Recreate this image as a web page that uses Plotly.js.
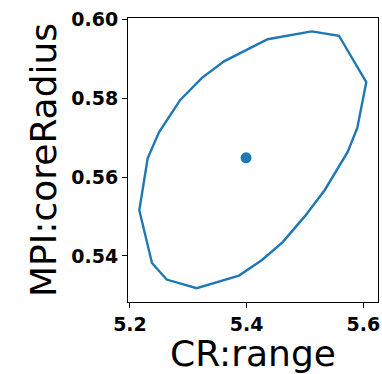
<!DOCTYPE html>
<html>
<head>
<meta charset="utf-8">
<script src="https://cdn.plot.ly/plotly-3.0.1.min.js"></script>
<style>html,body{margin:0;padding:0;background:#fff;}</style>
</head>
<body>
<div id="chart" style="width:382px;height:374px;"></div>
<script>
const contourX = [5.5115, 5.5583, 5.6051, 5.5897, 5.5732, 5.5343, 5.5000, 5.4618, 5.4258, 5.3869, 5.3143, 5.2629, 5.2377, 5.2160, 5.2303, 5.2497, 5.2862, 5.3234, 5.3612, 5.4361, 5.5115];
const contourY = [0.5970, 0.5959, 0.5841, 0.5725, 0.5664, 0.5568, 0.5501, 0.5435, 0.5389, 0.5350, 0.5318, 0.5340, 0.5382, 0.5516, 0.5648, 0.5714, 0.5796, 0.5852, 0.5894, 0.5950, 0.5970];
const centerX = [5.399];
const centerY = [0.5649];
const xTicks = [5.2, 5.4, 5.6];
const yTicks = [0.54, 0.56, 0.58, 0.60];

const color = '#1f77b4';
const data = [
  {x: contourX, y: contourY, type: 'scatter', mode: 'lines', line: {color: color, width: 2.4}, hoverinfo: 'skip'},
  {x: centerX, y: centerY, type: 'scatter', mode: 'markers', marker: {color: color, size: 11}}
];
const tickFont = {family: 'DejaVu Sans', size: 19, color: '#000', weight: 'bold'};
const layout = {
  width: 382, height: 374,
  margin: {l: 128, r: 4, t: 18, b: 72, pad: 0},
  showlegend: false,
  paper_bgcolor: '#fff', plot_bgcolor: '#fff',
  xaxis: {
    range: [5.1966, 5.6252], tickvals: xTicks, tickformat: '.1f',
    showgrid: false, zeroline: false, showline: true, mirror: true, linecolor: '#000', linewidth: 1,
    ticks: 'outside', ticklen: 5, tickwidth: 1, tickcolor: '#000', tickfont: tickFont,
    title: {text: 'CR:range', font: {family: 'DejaVu Sans', size: 36, color: '#000'}, standoff: 5}
  },
  yaxis: {
    range: [0.5283, 0.6004], tickvals: yTicks, tickformat: '.2f',
    showgrid: false, zeroline: false, showline: true, mirror: true, linecolor: '#000', linewidth: 1,
    ticks: 'outside', ticklen: 5, tickwidth: 1, tickcolor: '#000', tickfont: tickFont,
    title: {text: 'MPI:coreRadius', font: {family: 'DejaVu Sans', size: 36, color: '#000'}, standoff: 3}
  }
};
Plotly.newPlot('chart', data, layout, {staticPlot: true, displayModeBar: false});
</script>
</body>
</html>
